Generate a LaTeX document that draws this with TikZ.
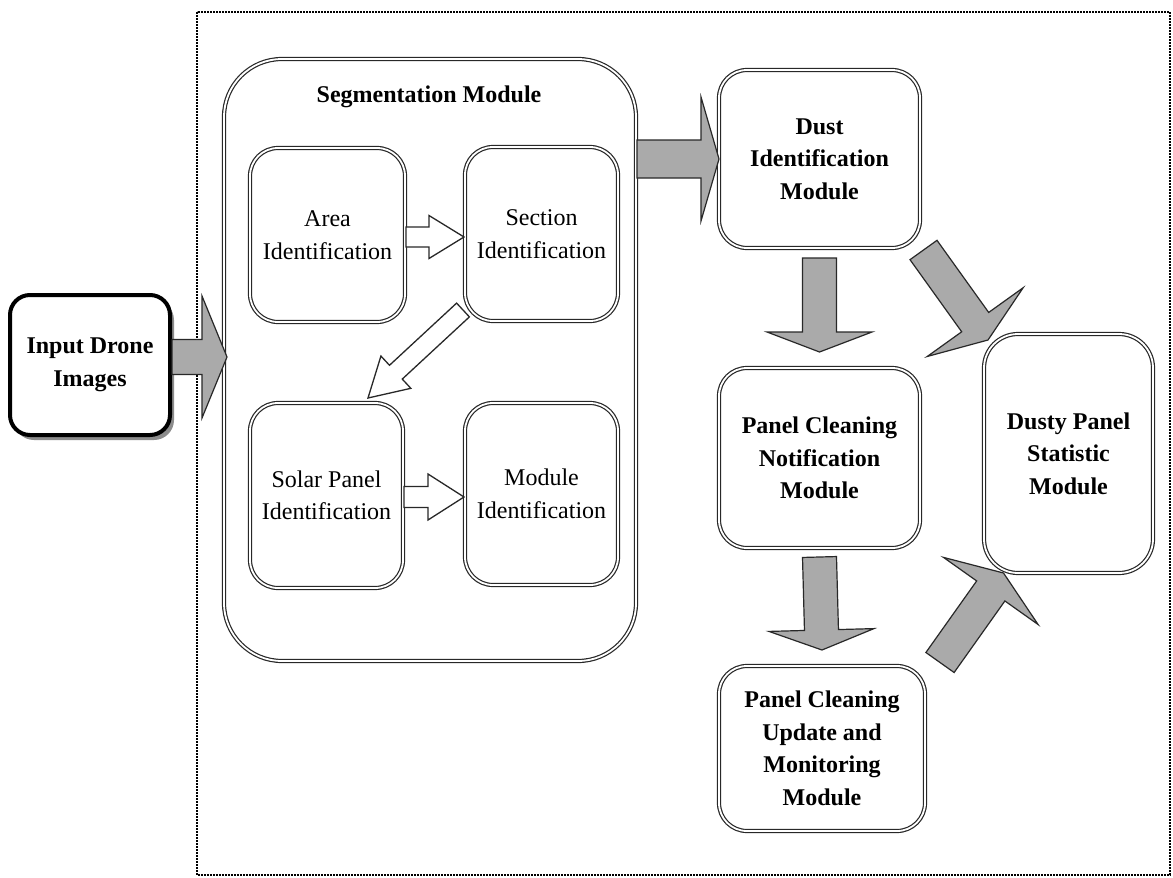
\documentclass[tikz,border=0pt]{standalone}
\usepackage{fontspec}
\setmainfont{Liberation Serif}
\usetikzlibrary{calc,shadows}
\definecolor{arrowgray}{RGB}{170,170,170}
\definecolor{linegray}{RGB}{40,40,40}
% #1 style, #2 start, #3 tip, #4 shaft half width, #5 head half width, #6 head length
\newcommand{\blockarrow}[6]{%
  \coordinate (ba-s) at #2;
  \coordinate (ba-e) at #3;
  \coordinate (ba-h) at ($(ba-e)!#6!(ba-s)$);
  \draw[#1] ($(ba-s)!#4!90:(ba-e)$) -- ($(ba-h)!#4!90:(ba-e)$) -- ($(ba-h)!#5!90:(ba-e)$)
    -- (ba-e) -- ($(ba-h)!#5!-90:(ba-e)$) -- ($(ba-h)!#4!-90:(ba-e)$) -- ($(ba-s)!#4!-90:(ba-e)$) -- cycle;
}
\tikzset{
  txt/.style={font=\fontsize{24}{32.5}\selectfont},
  btxt/.style={font=\fontsize{24}{32.5}\selectfont\bfseries},
  dbox/.style={draw=linegray, double=white, double distance=1.8pt, line width=1.2pt,
    rounded corners=28pt, align=center, inner sep=0pt, outer sep=0pt},
  inbox/.style={draw=black, line width=4pt, fill=white, rounded corners=20pt, align=center,
    inner sep=0pt, outer sep=0pt,
    drop shadow={shadow xshift=4pt, shadow yshift=-5pt, fill=black!45, opacity=1}},
  grayarrow/.style={fill=arrowgray, draw=linegray, line width=1.2pt, line join=miter},
  whitearrow/.style={fill=white, draw=linegray, line width=1.3pt, line join=miter},
  frame/.style={draw=black, line width=1.3pt, dash pattern=on 1.8pt off 1.2pt}
}
\begin{document}
\begin{tikzpicture}[x=1pt,y=-1pt]
\useasboundingbox[fill=white] (0,0) rectangle (1173,878);
\draw[frame] (197,12) rectangle (1170,875);

% input
\node[inbox, btxt, minimum width=160pt, minimum height=140pt] (in) at (90,365) {Input Drone\\Images};

% segmentation module
\node[dbox, rounded corners=58pt, minimum width=412pt, minimum height=602pt] (seg) at (430,360) {};
\node[btxt] (segtitle) at (429,97) {Segmentation Module};
\node[dbox, txt, minimum width=155pt, minimum height=174pt] (area) at (327.5,235) {Area\\Identification};
\node[dbox, txt, minimum width=153pt, minimum height=174pt] (sect) at (541.5,234) {Section\\Identification};
\node[dbox, txt, minimum width=153pt, minimum height=185pt] (solar) at (326.5,495.5) {Solar Panel\\Identification};
\node[dbox, txt, minimum width=153pt, minimum height=182pt] (modid) at (541.5,494) {Module\\Identification};

% right column
\node[dbox, btxt, minimum width=201pt, minimum height=178pt] (dust) at (819.5,159) {Dust\\Identification\\Module};
\node[dbox, btxt, minimum width=201pt, minimum height=180pt] (notif) at (819.5,458) {Panel Cleaning\\Notification\\Module};
\node[dbox, btxt, minimum width=206pt, minimum height=165pt] (upd) at (822,748.5) {Panel Cleaning\\Update and\\Monitoring\\Module};
\node[dbox, btxt, rounded corners=34pt, minimum width=169pt, minimum height=239pt] (dusty) at (1068.5,453.5) {Dusty Panel\\Statistic\\Module};

% gray block arrows
\coordinate (a1s) at ([xshift=2pt,yshift=8pt]in.east);
\coordinate (a1e) at (seg.west |- a1s);
\blockarrow{grayarrow}{(a1s)}{([xshift=3pt]a1e)}{17.5pt}{61pt}{25pt}

\coordinate (a2s) at (seg.east |- dust.west);
\blockarrow{grayarrow}{([xshift=1pt]a2s)}{(dust.west)}{19pt}{62pt}{18pt}

\blockarrow{grayarrow}{([yshift=-10pt]dust.south)}{([yshift=16pt]notif.north)}{17pt}{52.5pt}{20pt}
\blockarrow{grayarrow}{([yshift=-9pt]notif.south)}{([yshift=16pt]upd.north)}{17pt}{52.5pt}{20pt}

\blockarrow{grayarrow}{([xshift=3.5pt,yshift=-2pt]dust.south east)}{([xshift=4pt,yshift=-6pt]dusty.north west)}{16.6pt}{59pt}{22pt}
\blockarrow{grayarrow}{([xshift=15pt,yshift=3.5pt]upd.north east)}{([xshift=19.5pt]dusty.south west)}{17.3pt}{58pt}{22pt}

% white block arrows
\coordinate (w1s) at ([xshift=1pt,yshift=-2pt]area.east);
\coordinate (w1e) at (sect.west |- w1s);
\blockarrow{whitearrow}{(w1s)}{([xshift=-1pt]w1e)}{10pt}{21.5pt}{35pt}

\blockarrow{whitearrow}{([xshift=-2pt,yshift=11pt]sect.south west)}{([xshift=41.5pt,yshift=5pt]solar.north)}{9.4pt}{22pt}{38pt}

\coordinate (w3s) at ([xshift=1pt,yshift=-1.5pt]solar.east);
\coordinate (w3e) at (modid.west |- w3s);
\blockarrow{whitearrow}{(w3s)}{([xshift=-1pt]w3e)}{10.5pt}{23pt}{36pt}
\end{tikzpicture}
\end{document}
